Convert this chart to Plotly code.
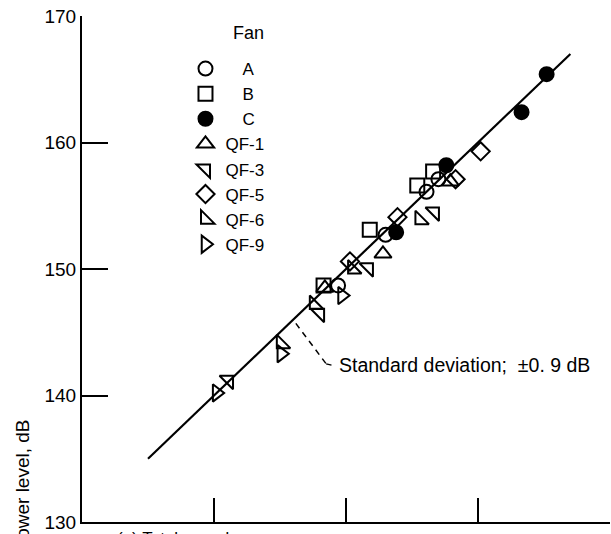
import plotly.graph_objects as go

# Sound power levels (dB) for each fan: predicted (x) vs measured (y)
fan_names = ["A", "B", "C", "QF-1", "QF-3", "QF-5", "QF-6", "QF-9"]

a_x = [149.4, 153.0, 156.1, 157.0]
a_y = [148.7, 152.7, 156.1, 157.1]

b_x = [148.3, 151.8, 155.4, 156.6]
b_y = [148.7, 153.1, 156.6, 157.7]

c_x = [153.8, 157.6, 163.3, 165.2]
c_y = [152.9, 158.2, 162.4, 165.4]

qf1_x = [148.4, 152.8, 157.9]
qf1_y = [148.5, 151.2, 156.9]

qf3_x = [141.1, 148.0, 151.7, 156.7]
qf3_y = [141.2, 146.5, 150.1, 154.5]

qf5_x = [150.3, 153.9, 158.3, 160.2]
qf5_y = [150.6, 154.1, 157.1, 159.3]

qf6_x = [145.1, 147.6, 150.5, 155.6]
qf6_y = [144.1, 147.2, 150.0, 153.9]

qf9_x = [140.2, 145.1, 149.7]
qf9_y = [140.2, 143.3, 147.9]

# Line of perfect agreement
fit_x = [135.0, 167.0]
fit_y = [135.0, 167.0]

y_ticks = [130, 140, 150, 160, 170]
x_ticks = [140, 150, 160, 170]

# Standard deviation callout
sd_lead_x = [146.2, 148.5, 148.9]
sd_lead_y = [145.7, 142.5, 142.4]
sd_text = "Standard deviation;  \u00b10. 9 dB"

FONT = "Liberation Sans, Arial, sans-serif"

series = [
    (a_x, a_y, "circle-open"),
    (b_x, b_y, "square-open"),
    (c_x, c_y, "circle"),
    (qf1_x, qf1_y, "triangle-up-open"),
    (qf3_x, qf3_y, "triangle-ne-open"),
    (qf5_x, qf5_y, "diamond-open"),
    (qf6_x, qf6_y, "triangle-sw-open"),
    (qf9_x, qf9_y, "triangle-right-open"),
]

fig = go.Figure()

fig.add_trace(go.Scatter(
    x=fit_x, y=fit_y, mode="lines",
    line=dict(color="black", width=2.2),
    showlegend=False, hoverinfo="skip",
))

label_pad = {"A": "\u2002\u2002A", "B": "\u2002\u2002B", "C": "\u2002\u2002C"}
for name, (xs, ys, sym) in zip(fan_names, series):
    fig.add_trace(go.Scatter(
        x=xs, y=ys, mode="markers", name=label_pad.get(name, name),
        marker=dict(
            symbol=sym, size=15 if "triangle" in sym else 14,
            color="black",
            line=dict(color="black", width=2),
        ),
    ))

# dashed leader to the callout text
fig.add_trace(go.Scatter(
    x=sd_lead_x[:2], y=sd_lead_y[:2], mode="lines",
    line=dict(color="black", width=1.5, dash="6px,5px"),
    showlegend=False, hoverinfo="skip",
))
fig.add_trace(go.Scatter(
    x=sd_lead_x[1:], y=sd_lead_y[1:], mode="lines",
    line=dict(color="black", width=1.5),
    showlegend=False, hoverinfo="skip",
))

fig.add_annotation(
    x=149.3, y=142.4, xref="x", yref="y", text=sd_text,
    showarrow=False, xanchor="left", yanchor="middle",
    font=dict(family=FONT, size=19.5, color="black"),
)

# legend heading
fig.add_annotation(
    x=(248 - 82) / 528, y=(522 - 33) / 506, xref="paper", yref="paper",
    text="Fan", showarrow=False, xanchor="center", yanchor="middle",
    font=dict(family=FONT, size=18, color="black"),
)

fig.add_annotation(
    x=-0.113, y=0.207, xref="paper", yref="paper",
    text="Sound power level, dB", textangle=-90,
    showarrow=False, xanchor="center", yanchor="top",
    font=dict(family=FONT, size=19, color="black"),
)

fig.add_annotation(
    x=0.063, y=-0.009, xref="paper", yref="paper",
    text="(a) Total sound power.", showarrow=False,
    xanchor="left", yanchor="top",
    font=dict(family=FONT, size=17, color="black"),
)

fig.update_layout(
    width=611, height=534,
    margin=dict(l=82, r=1, t=16, b=12),
    paper_bgcolor="white", plot_bgcolor="white",
    font=dict(family=FONT, size=19, color="black"),
    legend=dict(
        x=0.196, y=(522 - 51) / 506, xanchor="left", yanchor="top",
        font=dict(family=FONT, size=17),
        bgcolor="rgba(0,0,0,0)", tracegroupgap=0, itemwidth=30,
    ),
    xaxis=dict(
        range=[130, 170], tickvals=x_ticks, showticklabels=False,
        ticks="inside", ticklen=24, tickwidth=2, tickcolor="black",
        showline=True, linecolor="black", linewidth=2,
        showgrid=False, zeroline=False, mirror=False,
    ),
    yaxis=dict(
        range=[130, 170], tickvals=y_ticks,
        ticks="inside", ticklen=26, tickwidth=1.5, tickcolor="black",
        showline=True, linecolor="black", linewidth=2,
        showgrid=False, zeroline=False, mirror=False,
        tickfont=dict(family=FONT, size=19),
    ),
)

fig.write_html("out.html")
